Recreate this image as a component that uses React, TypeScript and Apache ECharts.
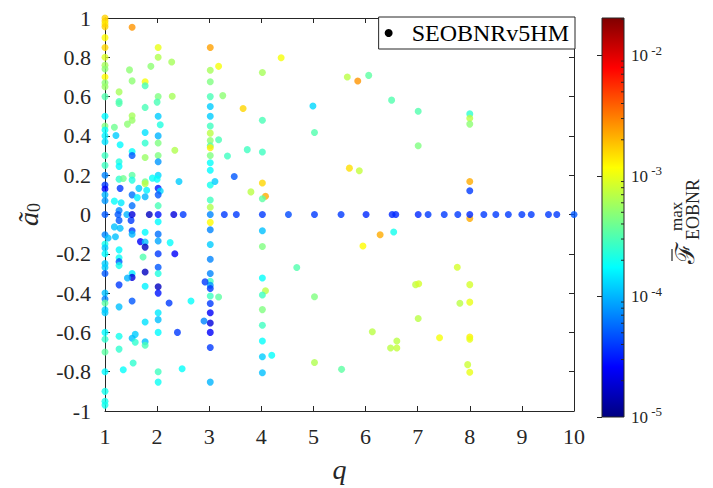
import React, { useEffect, useRef } from 'react';
import * as echarts from 'echarts';

// [q, a0, F_max]
const pointsQ1: number[][] = [
  [1, 1.0, 1.65e-3], [1, 0.985, 1.65e-3], [1, 0.97, 1.4e-3], [1, 0.955, 1.65e-3], [1, 0.9, 1.2e-3],
  [1, 0.85, 1.6e-3], [1, 0.8, 9e-4], [1, 0.76, 6e-4], [1, 0.74, 5e-4], [1, 0.7, 1.2e-3],
  [1, 0.67, 5e-4], [1, 0.65, 5.5e-4], [1, 0.6, 3.2e-4], [1, 0.5, 1.7e-4], [1, 0.45, 4.5e-4],
  [1, 0.43, 1.8e-4], [1, 0.4, 1.6e-4], [1, 0.37, 1.4e-4], [1, 0.3, 2.8e-4], [1, 0.25, 2.8e-4],
  [1, 0.2, 7e-5], [1, 0.15, 4e-5], [1, 0.13, 2.5e-5], [1, 0.1, 1e-4], [1, 0.07, 8e-5],
  [1, 0.0, 5e-5], [1, -0.103, 7e-5], [1, -0.15, 2e-4], [1, -0.17, 1.2e-4], [1, -0.2, 1.7e-4],
  [1, -0.25, 1.2e-4], [1, -0.27, 1.2e-4], [1, -0.3, 5e-5], [1, -0.4, 1.1e-4], [1, -0.43, 7e-5],
  [1, -0.45, 3.5e-4], [1, -0.485, 1.2e-4], [1, -0.5, 1.2e-4], [1, -0.6, 1.7e-4], [1, -0.635, 2.5e-4],
  [1, -0.7, 3.5e-4], [1, -0.8, 1.7e-4], [1, -0.9, 2e-4], [1, -0.95, 2e-4], [1, -0.97, 2e-4],
];

const pointsLowQUpper: number[][] = [
  [1.52, 0.953, 2.6e-3], [2.02, 0.85, 1.0e-3], [2.02, 0.8, 6.5e-4], [2.28, 0.776, 6e-4], [1.88, 0.754, 5e-4],
  [1.47, 0.736, 5e-4], [1.52, 0.68, 5e-4], [1.77, 0.676, 1.1e-3], [1.77, 0.655, 3e-4], [1.27, 0.624, 6e-4],
  [1.27, 0.575, 3e-4], [1.27, 0.565, 3.2e-4], [2.02, 0.6, 4.5e-4], [2.29, 0.602, 6e-4], [2.0, 0.572, 3e-4],
  [1.77, 0.545, 3e-4], [1.52, 0.502, 6e-4], [1.52, 0.48, 5.5e-4], [1.43, 0.46, 5e-4], [1.18, 0.444, 4e-4],
  [2.02, 0.5, 1.2e-4], [2.06, 0.457, 2.2e-4], [1.21, 0.402, 1.2e-4], [1.29, 0.355, 1.7e-4], [1.77, 0.417, 1.4e-4],
  [1.77, 0.364, 2.5e-4], [2.02, 0.4, 1.0e-4], [2.02, 0.364, 4.5e-4], [2.34, 0.327, 6.5e-4], [1.52, 0.32, 1.8e-4],
  [1.52, 0.3, 5e-5], [1.77, 0.29, 5.5e-4], [2.02, 0.3, 4.5e-4], [2.02, 0.268, 8e-5], [1.27, 0.268, 2.2e-4],
  [1.27, 0.245, 1.7e-4], [2.02, 0.2, 1.3e-4], [1.52, 0.2, 3.5e-4], [1.27, 0.18, 2.5e-4], [1.35, 0.183, 4e-4],
  [1.77, 0.167, 4e-4], [1.77, 0.157, 7e-4], [1.91, 0.185, 1.8e-4], [2.0, 0.18, 1.8e-4], [1.52, 0.175, 2.2e-4],
  [1.29, 0.133, 4e-5], [1.52, 0.1, 6e-5], [1.65, 0.133, 1.2e-4], [1.8, 0.123, 1.6e-4], [2.02, 0.133, 3e-5],
  [2.06, 0.12, 1.3e-4], [1.62, 0.086, 1.6e-4], [1.77, 0.09, 1e-4], [2.02, 0.1, 5e-5], [1.18, 0.068, 1.8e-4],
  [1.31, 0.06, 1.5e-4], [1.52, 0.045, 6e-5], [2.02, 0.045, 3e-4], [1.27, 0.02, 7e-5], [2.42, 0.168, 1.2e-4],
];

const pointsAxisRow: number[][] = [
  [1.25, 0, 5e-5], [1.42, 0, 1e-4], [1.52, 0, 2e-5], [1.85, 0, 1.6e-5], [2.02, 0, 3e-5],
  [2.32, 0, 2e-5], [2.5, 0, 4e-5], [3.02, 0, 7e-5], [3.29, 0, 4e-5], [3.52, 0, 4e-5],
  [4.02, 0, 4e-5], [4.52, 0, 4.5e-5], [5.02, 0, 4e-5], [5.53, 0, 4e-5], [6.01, 0, 3.5e-5],
  [6.51, 0, 3.5e-5], [6.58, 0, 3.5e-5], [7.01, 0, 3.5e-5], [7.2, 0, 4e-5], [7.51, 0, 4e-5],
  [7.77, 0, 4e-5], [8.0, 0, 3.5e-5], [8.27, 0, 4e-5], [8.5, 0, 4e-5], [8.74, 0, 4e-5],
  [9.0, 0, 4e-5], [9.18, 0, 4e-5], [9.51, 0, 4e-5], [9.67, 0, 4e-5], [10.0, 0, 5e-5],
];

const pointsLowQLower: number[][] = [
  [1.18, -0.063, 1.1e-4], [1.27, -0.03, 5e-5], [1.29, -0.07, 1.1e-4], [1.2, -0.113, 1.1e-4], [1.06, -0.12, 1.1e-4],
  [1.5, -0.03, 4e-5], [1.52, -0.083, 4e-5], [1.52, -0.1, 1e-4], [1.68, -0.138, 2.5e-5], [1.77, -0.09, 1.7e-4],
  [1.77, -0.14, 1.1e-4], [1.77, -0.166, 1.6e-5], [1.73, -0.216, 3.2e-4], [1.27, -0.18, 1.7e-4], [1.27, -0.22, 1.9e-4],
  [1.27, -0.24, 5e-5], [1.27, -0.26, 2e-4], [2.02, -0.037, 1.7e-4], [2.02, -0.1, 6e-5], [2.02, -0.135, 9e-5],
  [2.25, -0.143, 1.8e-4], [2.34, -0.2, 2.5e-5], [2.02, -0.2, 4e-5], [2.02, -0.268, 5e-5], [2.02, -0.3, 2.2e-4],
  [2.02, -0.368, 1.6e-5], [2.02, -0.4, 3e-5], [1.77, -0.293, 1.6e-5], [1.77, -0.365, 1.6e-4], [1.52, -0.3, 1.5e-4],
  [1.52, -0.32, 2e-5], [1.43, -0.323, 1e-4], [1.27, -0.358, 4e-5], [1.52, -0.44, 5e-5], [1.27, -0.47, 1.1e-4],
  [1.77, -0.547, 1.4e-4], [2.02, -0.5, 1.5e-4], [2.02, -0.535, 1.1e-4], [2.02, -0.6, 1.7e-4], [2.23, -0.45, 4e-5],
  [2.39, -0.6, 4e-5], [1.58, -0.61, 1.2e-4], [1.52, -0.63, 1.1e-4], [1.58, -0.65, 2.5e-4], [1.77, -0.648, 1.1e-4],
  [1.77, -0.665, 3e-4], [1.27, -0.62, 2e-4], [1.27, -0.685, 2.5e-4], [1.54, -0.756, 2.5e-4], [1.35, -0.79, 1.8e-4],
  [2.02, -0.8, 2.8e-4], [2.02, -0.853, 1.9e-4], [2.65, -0.44, 1.8e-4], [2.48, -0.785, 1.8e-4],
];

const pointsQ3: number[][] = [
  [3.02, 0.85, 2.4e-3], [3.02, 0.734, 6e-4], [3.02, 0.676, 4.5e-4], [3.02, 0.6, 3e-4], [3.02, 0.55, 1.2e-4],
  [3.02, 0.5, 1.2e-4], [3.02, 0.45, 2.8e-4], [3.02, 0.414, 7e-4], [3.02, 0.376, 5e-4], [3.02, 0.35, 3.5e-4],
  [3.02, 0.34, 1.3e-3], [3.02, 0.3, 4.5e-4], [3.02, 0.263, 1.8e-4], [3.02, 0.225, 1.7e-4], [3.02, 0.15, 2e-4],
  [3.02, 0.074, 2.8e-4], [3.02, 0.037, 6.5e-4], [3.02, -0.04, 1.2e-3], [3.02, -0.078, 7e-5], [3.02, -0.153, 1.2e-4],
  [3.02, -0.228, 7e-5], [3.02, -0.3, 7e-5], [3.02, -0.34, 2.8e-4], [3.02, -0.36, 8e-5], [3.02, -0.377, 4e-5],
  [3.02, -0.415, 2.8e-4], [3.02, -0.453, 4e-5], [3.02, -0.5, 2.5e-5], [3.02, -0.552, 2e-5], [3.02, -0.6, 2.5e-5],
  [3.02, -0.677, 4e-5], [3.02, -0.853, 1.0e-4], [3.18, 0.754, 1.1e-3], [3.26, 0.605, 5e-4], [3.65, 0.539, 1.6e-3],
  [3.18, 0.38, 3e-4], [3.35, 0.298, 2.8e-4], [3.73, 0.33, 2.8e-4], [3.11, 0.168, 1.2e-4], [3.48, 0.193, 5e-5],
  [3.8, 0.115, 7e-4], [3.18, -0.42, 3.5e-4], [2.92, -0.343, 4e-5], [2.9, -0.542, 7e-5],
];

const pointsHighQ: number[][] = [
  [4.38, 0.798, 1.1e-3], [4.02, 0.723, 6e-4], [4.02, 0.48, 3e-4], [4.99, 0.552, 1.3e-4], [5.02, 0.417, 3.2e-4],
  [4.02, 0.318, 2.8e-4], [4.02, 0.16, 1.6e-3], [4.08, 0.093, 2.2e-3], [4.02, 0.08, 3.5e-4], [4.02, -0.083, 1.1e-4],
  [4.02, -0.163, 4.5e-4], [4.68, -0.27, 3.2e-4], [4.02, -0.323, 1.8e-4], [4.08, -0.388, 7e-4], [4.02, -0.41, 2.8e-4],
  [4.02, -0.484, 4.5e-4], [5.02, -0.419, 4.5e-4], [4.02, -0.564, 2.8e-4], [4.02, -0.644, 1.8e-4], [4.02, -0.724, 1.2e-4],
  [4.2, -0.716, 1.8e-4], [4.02, -0.805, 1.1e-4], [5.02, -0.753, 6.5e-4], [5.65, 0.7, 7e-4], [5.85, 0.679, 2.6e-3],
  [6.06, 0.708, 3.5e-4], [6.5, 0.582, 3.2e-4], [7.01, 0.525, 3.2e-4], [7.01, 0.35, 4.5e-4], [8.0, 0.512, 2.5e-4],
  [8.0, 0.49, 7e-4], [8.0, 0.46, 5e-4], [5.69, 0.236, 1.5e-3], [5.88, 0.223, 7.5e-4], [8.0, 0.168, 2.2e-3],
  [8.0, 0.121, 4e-5], [8.0, -0.02, 2.2e-3], [6.28, -0.103, 2.2e-3], [6.54, -0.089, 2e-4], [5.95, -0.16, 1.2e-3],
  [7.76, -0.268, 8.5e-4], [6.96, -0.357, 7.5e-4], [7.02, -0.352, 8.5e-4], [8.0, -0.357, 8.5e-4], [7.81, -0.452, 7e-4],
  [8.0, -0.446, 1.0e-3], [7.01, -0.529, 7e-4], [6.13, -0.597, 7e-4], [7.42, -0.627, 1.1e-3], [8.0, -0.624, 1.3e-3],
  [8.0, -0.635, 1.0e-3], [6.48, -0.679, 7e-4], [6.6, -0.644, 7e-4], [6.6, -0.679, 7.5e-4], [5.54, -0.788, 3.5e-4],
  [7.96, -0.764, 8e-4], [8.0, -0.803, 1.0e-3],
];

const seriesName = 'SEOBNRv5HM';
const colorbarRange = [1e-5, 2.05e-2];
const colorbarDecades = [-5, -4, -3, -2];
const jetColors = ['#000080', '#0000ff', '#0080ff', '#00ffff', '#80ff80', '#ffff00', '#ff8000', '#ff0000', '#800000'];

export default function App() {
  const ref = useRef<HTMLDivElement>(null);
  useEffect(() => {
    if (!ref.current) return;
    const chart = echarts.init(ref.current, null, { renderer: 'svg' });
    const logMin = Math.log10(colorbarRange[0]);
    const logMax = Math.log10(colorbarRange[1]);
    const allPoints = [...pointsQ1, ...pointsLowQUpper, ...pointsLowQLower, ...pointsQ3, ...pointsHighQ, ...pointsAxisRow];
    const data = allPoints.map((p) => [p[0], p[1], Math.log10(p[2])]);
    const minor: number[][] = [];
    colorbarDecades.forEach((n) => {
      for (let k = 2; k <= 9; k++) {
        const v = n + Math.log10(k);
        if (v < logMax) minor.push([1, v]);
      }
    });
    const serif = 'Liberation Serif';
    const ink = '#262626';
    const lineStyle = { color: ink, width: 1 };
    const tickStyle = { inside: true, length: 5, lineStyle: { color: ink, width: 1 } };

    const option: any = {
      animation: false,
      backgroundColor: '#ffffff',
      textStyle: { fontFamily: serif },
      grid: [
        { left: 105, top: 18, width: 469, height: 399 },
        { left: 602, top: 18, width: 22, height: 399 },
      ],
      xAxis: [
        {
          type: 'value', gridIndex: 0, min: 1, max: 10, interval: 1, position: 'bottom',
          axisLine: { onZero: false, lineStyle },
          axisTick: tickStyle,
          splitLine: { show: false },
          axisLabel: { fontFamily: serif, fontSize: 22, color: ink, margin: 14 },
          name: 'q', nameLocation: 'middle', nameGap: 44,
          nameTextStyle: { fontFamily: serif, fontStyle: 'italic', fontSize: 28, color: ink },
        },
        {
          type: 'value', gridIndex: 0, min: 1, max: 10, interval: 1, position: 'top',
          axisLine: { onZero: false, lineStyle },
          axisTick: tickStyle,
          splitLine: { show: false },
          axisLabel: { show: false },
        },
        { type: 'value', gridIndex: 1, min: 0, max: 1, show: false },
      ],
      yAxis: [
        {
          type: 'value', gridIndex: 0, min: -1, max: 1, interval: 0.2, position: 'left',
          axisLine: { onZero: false, lineStyle },
          axisTick: tickStyle,
          splitLine: { show: false },
          axisLabel: { fontFamily: serif, fontSize: 22, color: ink, margin: 14 },
          name: '{a|ã}{s|0}', nameLocation: 'middle', nameRotate: 90, nameGap: 62,
          nameTextStyle: {
            rich: {
              a: { fontFamily: serif, fontStyle: 'italic', fontSize: 28, color: ink, lineHeight: 30 },
              s: { fontFamily: serif, fontSize: 18, color: ink, verticalAlign: 'bottom', lineHeight: 18 },
            },
          },
        },
        {
          type: 'value', gridIndex: 0, min: -1, max: 1, interval: 0.2, position: 'right',
          axisLine: { onZero: false, lineStyle },
          axisTick: tickStyle,
          splitLine: { show: false },
          axisLabel: { show: false },
        },
        {
          type: 'value', gridIndex: 1, min: logMin, max: logMax, interval: 1, position: 'right', z: 10,
          axisLine: { show: false },
          axisTick: tickStyle,
          splitLine: { show: false },
          axisLabel: {
            margin: 7, showMaxLabel: false,
            formatter: (v: number) => {
              const r = Math.round(v);
              return Math.abs(v - r) < 1e-6 ? `{b|10}{e| ${r}}` : '';
            },
            rich: {
              b: { fontFamily: serif, fontSize: 17, color: ink, lineHeight: 24 },
              e: { fontFamily: serif, fontSize: 13, color: ink, verticalAlign: 'top', lineHeight: 13 },
            },
          },
        },
      ],
      visualMap: {
        type: 'continuous', show: false, seriesIndex: 0, dimension: 2,
        min: logMin, max: logMax, inRange: { color: jetColors },
      },
      legend: {
        data: [{ name: seriesName, icon: 'circle', itemStyle: { color: '#000', opacity: 1 } }],
        right: 138, top: 17, itemWidth: 36, itemHeight: 8,
        padding: [4, 6, 4, 6], borderColor: ink, borderWidth: 1, backgroundColor: '#fff',
        selectedMode: false, z: 20,
        textStyle: { fontFamily: serif, fontSize: 24, color: '#000' },
      },
      series: [
        {
          type: 'scatter', name: seriesName, xAxisIndex: 0, yAxisIndex: 0, data,
          symbolSize: 7, itemStyle: { opacity: 0.8 }, clip: false, z: 3,
        },
        {
          type: 'custom', xAxisIndex: 2, yAxisIndex: 2, silent: true, z: 2,
          data: [[0, logMin, 1, logMax]],
          renderItem: (_p: any, api: any) => {
            const p0 = api.coord([0, logMax]);
            const p1 = api.coord([1, logMin]);
            return {
              type: 'rect',
              shape: { x: p0[0], y: p0[1], width: p1[0] - p0[0], height: p1[1] - p0[1] },
              style: {
                fill: new echarts.graphic.LinearGradient(0, 1, 0, 0,
                  jetColors.map((c, i) => ({ offset: i / (jetColors.length - 1), color: c }))),
                stroke: ink, lineWidth: 1,
              },
            };
          },
        },
        {
          type: 'custom', xAxisIndex: 2, yAxisIndex: 2, silent: true, z: 4,
          data: minor,
          renderItem: (_p: any, api: any) => {
            const p = api.coord([1, api.value(1)]);
            return {
              type: 'line',
              shape: { x1: p[0], y1: p[1], x2: p[0] - 3, y2: p[1] },
              style: { stroke: ink, lineWidth: 1 },
            };
          },
        },
      ],
      graphic: [
        {
          type: 'group', x: 685, y: 219, rotation: Math.PI / 2,
          children: [
            { type: 'text', x: -45, y: 0, style: { text: 'ℱ', fontFamily: serif, fontSize: 26, fill: ink, align: 'left', verticalAlign: 'middle' } },
            { type: 'line', shape: { x1: -42, y1: -13, x2: -30, y2: -13 }, style: { stroke: ink, lineWidth: 1.2 } },
            { type: 'text', x: -21, y: 8, style: { text: 'EOBNR', fontFamily: serif, fontSize: 18, fill: ink, align: 'left', verticalAlign: 'middle' } },
            { type: 'text', x: -12, y: -9, style: { text: 'max', fontFamily: serif, fontSize: 17, fill: ink, align: 'left', verticalAlign: 'middle' } },
          ],
        },
      ],
    };
    chart.setOption(option);
    return () => chart.dispose();
  }, []);
  return <div ref={ref} style={{ position: 'fixed', left: 0, top: 0, width: 713, height: 488 }} />;
}
